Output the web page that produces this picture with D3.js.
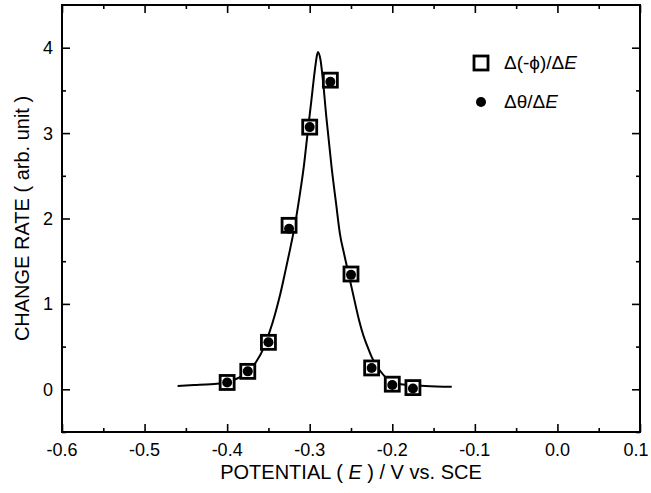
<!DOCTYPE html>
<html><head><meta charset="utf-8">
<script src="https://cdn.jsdelivr.net/npm/d3@7"></script>
<style>
html,body{margin:0;padding:0;background:#fff;}
svg{display:block;font-family:Arial,"Liberation Sans",sans-serif;}
</style></head>
<body>
<div id="chart"></div>
<script>
// ---- data ----
const potentials = [-0.4, -0.375, -0.35, -0.325, -0.3, -0.275, -0.25, -0.225, -0.2, -0.175];
const phiRate   = [0.08, 0.21, 0.55, 1.92, 3.07, 3.62, 1.35, 0.25, 0.06, 0.02];
const thetaRate = [0.08, 0.21, 0.55, 1.88, 3.07, 3.60, 1.34, 0.25, 0.05, 0.01];
const fitX = [-0.46, -0.44, -0.42, -0.405, -0.395, -0.385, -0.375, -0.365, -0.355, -0.349, -0.342, -0.336, -0.33, -0.324, -0.318, -0.312, -0.307, -0.302, -0.298, -0.294, -0.291, -0.29,
              -0.287, -0.284, -0.28, -0.2735, -0.268, -0.2634, -0.258, -0.252, -0.246, -0.24, -0.235, -0.23, -0.225, -0.22, -0.215, -0.21, -0.205, -0.2, -0.195, -0.19, -0.18, -0.16, -0.128];
const fitY = [0.04, 0.05, 0.06, 0.07, 0.10, 0.14, 0.21, 0.32, 0.50, 0.66, 0.88, 1.10, 1.36, 1.63, 1.92, 2.28, 2.62, 3.05, 3.38, 3.72, 3.92, 3.95,
              3.86, 3.62, 3.20, 2.60, 2.17, 1.82, 1.57, 1.31, 1.05, 0.80, 0.63, 0.50, 0.38, 0.29, 0.22, 0.16, 0.12, 0.09, 0.07, 0.06, 0.05, 0.04, 0.03];
const xTicks = [-0.6, -0.5, -0.4, -0.3, -0.2, -0.1, 0.0, 0.1];
const yTicks = [0, 1, 2, 3, 4];
const xMinor = [-0.55, -0.45, -0.35, -0.25, -0.15, -0.05, 0.05];
const yMinor = [-0.5, 0.5, 1.5, 2.5, 3.5];
const xDomain = [-0.6, 0.1];
const yDomain = [-0.5, 4.5];

const W = 651, H = 493;
const m = {left: 62, right: 11, top: 5, bottom: 61};
const svg = d3.select("#chart").append("svg").attr("width", W).attr("height", H);

const x = d3.scaleLinear().domain(xDomain).range([m.left, W - m.right]);
const y = d3.scaleLinear().domain(yDomain).range([H - m.bottom, m.top]);

function tickLines(g, axisFn, scale, vals, len) {
  g.call(axisFn(scale).tickValues(vals).tickSize(len).tickFormat(""));
  g.select(".domain").remove();
  g.selectAll("line").attr("stroke", "#000").attr("stroke-width", 1.6);
}
const fmt = d => d.toFixed(1);

function axisPair(axisFn, scale, tr) {
  tickLines(svg.append("g").attr("transform", tr), axisFn, scale, scale === x ? xTicks : yTicks, 8);
  tickLines(svg.append("g").attr("transform", tr), axisFn, scale, scale === x ? xMinor : yMinor, 4);
}
axisPair(d3.axisTop, x, `translate(0,${y(yDomain[0])})`);
axisPair(d3.axisBottom, x, `translate(0,${y(yDomain[1])})`);
axisPair(d3.axisRight, y, `translate(${x(xDomain[0])},0)`);
axisPair(d3.axisLeft, y, `translate(${x(xDomain[1])},0)`);

// frame
svg.append("rect")
  .attr("x", x(xDomain[0])).attr("y", y(yDomain[1]))
  .attr("width", x(xDomain[1]) - x(xDomain[0]))
  .attr("height", y(yDomain[0]) - y(yDomain[1]))
  .attr("fill", "none").attr("stroke", "#000").attr("stroke-width", 2);

// tick labels
svg.append("g").selectAll("text").data(xTicks).join("text")
  .attr("x", d => Math.min(x(d), W - 15)).attr("y", y(yDomain[0]) + 24)
  .attr("text-anchor", "middle").attr("font-size", 18).text(fmt);
svg.append("g").selectAll("text").data(yTicks).join("text")
  .attr("x", x(xDomain[0]) - 9).attr("y", d => y(d) + 6.5)
  .attr("text-anchor", "end").attr("font-size", 18).text(d => d);

// axis titles
const xt = svg.append("text").attr("x", (m.left + W - m.right) / 2).attr("y", 479)
  .attr("text-anchor", "middle").attr("font-size", 20);
xt.append("tspan").text("POTENTIAL ( ");
xt.append("tspan").attr("font-style", "italic").text("E");
xt.append("tspan").text(" ) / V vs. SCE");

svg.append("text").attr("transform", `translate(29,${(y(yDomain[0]) + y(yDomain[1])) / 2}) rotate(-90)`)
  .attr("text-anchor", "middle").attr("font-size", 20).text("CHANGE RATE ( arb. unit )");

// fit curve
const fitData = fitX.map((v, i) => [v, fitY[i]]);
svg.append("path").datum(fitData)
  .attr("d", d3.line().x(d => x(d[0])).y(d => y(d[1])).curve(d3.curveMonotoneX))
  .attr("fill", "none").attr("stroke", "#000").attr("stroke-width", 2);

// squares
const sq = 14;
svg.append("g").selectAll("rect").data(potentials).join("rect")
  .attr("x", d => x(d) - sq / 2).attr("y", (d, i) => y(phiRate[i]) - sq / 2)
  .attr("width", sq).attr("height", sq)
  .attr("fill", "#fff").attr("stroke", "#000").attr("stroke-width", 2.8);
// dots
svg.append("g").selectAll("circle").data(potentials).join("circle")
  .attr("cx", d => x(d)).attr("cy", (d, i) => y(thetaRate[i]))
  .attr("r", 5).attr("fill", "#000");

// legend
svg.append("rect").attr("x", 481 - sq / 2).attr("y", 63 - sq / 2).attr("width", sq).attr("height", sq)
  .attr("fill", "#fff").attr("stroke", "#000").attr("stroke-width", 2.8);
const l1 = svg.append("text").attr("x", 504).attr("y", 69).attr("font-size", 19);
l1.append("tspan").text("Δ(-ϕ)/Δ");
l1.append("tspan").attr("font-style", "italic").text("E");
svg.append("circle").attr("cx", 481).attr("cy", 102).attr("r", 5).attr("fill", "#000");
const l2 = svg.append("text").attr("x", 504).attr("y", 108).attr("font-size", 19);
l2.append("tspan").text("Δθ/Δ");
l2.append("tspan").attr("font-style", "italic").text("E");
</script>
</body></html>
